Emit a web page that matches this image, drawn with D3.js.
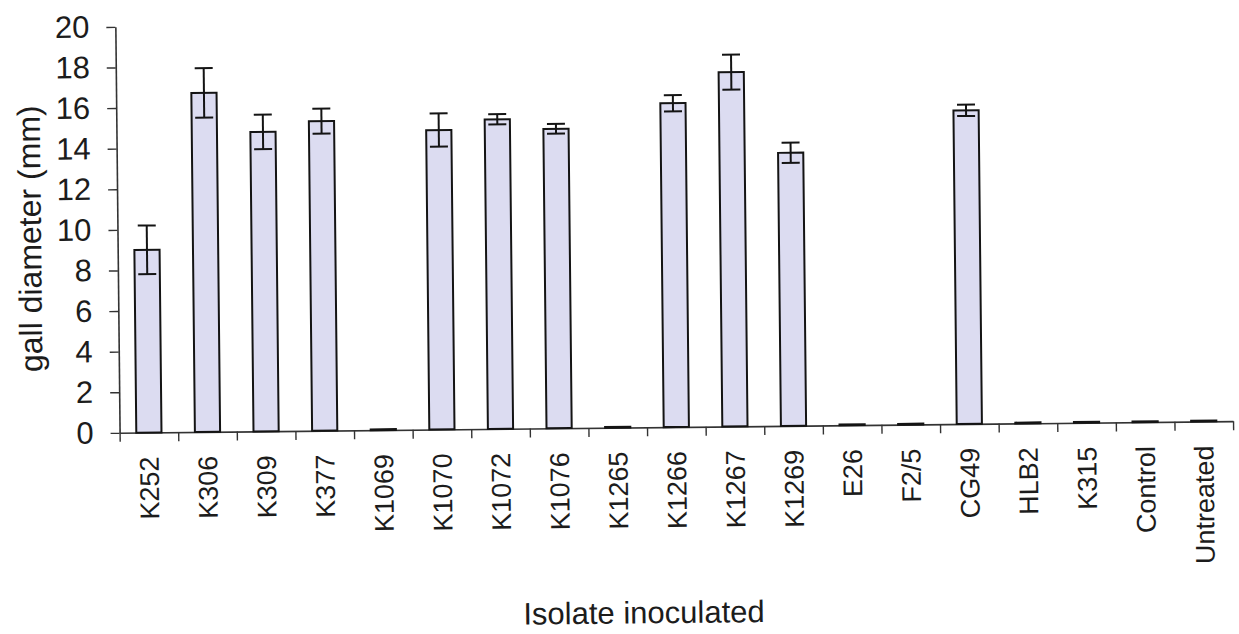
<!DOCTYPE html>
<html>
<head>
<meta charset="utf-8">
<script src="https://cdn.jsdelivr.net/npm/d3@7"></script>
<style>
  html, body { margin: 0; padding: 0; background: #fff; }
  svg { display: block; }
  text { font-family: "Liberation Sans", Arial, sans-serif; fill: #1c1c1c; }
</style>
</head>
<body>
<svg id="chart" width="1239" height="634"></svg>
<script>
// Mean gall diameter (mm) per inoculated isolate, with error bars
const categories = ["K252", "K306", "K309", "K377", "K1069", "K1070", "K1072", "K1076",
  "K1265", "K1266", "K1267", "K1269", "E26", "F2/5", "CG49", "HLB2", "K315", "Control", "Untreated"];
const means  = [9.0, 16.7, 14.75, 15.25, 0, 14.75, 15.25, 14.75, 0, 15.95, 17.45, 13.45, 0, 0, 15.45, 0, 0, 0, 0];
const errors = [1.2, 1.22, 0.85, 0.62, 0, 0.82, 0.25, 0.24, 0, 0.4, 0.86, 0.5, 0, 0, 0.28, 0, 0, 0, 0];
const yTicks = [0, 2, 4, 6, 8, 10, 12, 14, 16, 18, 20];

const yTitle = "gall diameter (mm)";
const xTitle = "Isolate inoculated";

const rows = categories.map((c, i) => ({ cat: c, mean: means[i], err: errors[i] }));

const svg = d3.select("#chart");
svg.append("rect").attr("width", 1239).attr("height", 634).attr("fill", "#fff");

// whole figure sits at a slight angle
const g = svg.append("g").attr("transform", "rotate(-0.6 675 230)");

const plotLeft = 117.5, plotRight = 1231, plotBase = 427, plotTop = 21;

const x = d3.scaleBand().domain(categories).range([plotLeft, plotRight])
  .paddingInner(0.57).paddingOuter(0.285);
const edges = d3.scaleLinear().domain([0, categories.length]).range([plotLeft, plotRight]);
const y = d3.scaleLinear().domain([0, 20]).range([plotBase, plotTop]);

// y axis
const yAxis = g.append("g").attr("transform", `translate(${plotLeft},0)`)
  .call(d3.axisLeft(y).tickValues(yTicks).tickSize(9).tickSizeOuter(0).tickPadding(17));
yAxis.selectAll("text").style("font-size", "31px").attr("fill", "#1c1c1c");
yAxis.select(".domain").attr("stroke", "#333").attr("stroke-width", 1.6);
yAxis.selectAll(".tick line").attr("stroke", "#333").attr("stroke-width", 1.4);

// x axis line with category boundary ticks
const xEdges = g.append("g").attr("transform", `translate(0,${plotBase})`)
  .call(d3.axisBottom(edges).tickValues(d3.range(categories.length + 1))
    .tickSize(9).tickSizeOuter(0).tickFormat(""));
xEdges.select(".domain").attr("stroke", "#333").attr("stroke-width", 1.6);
xEdges.selectAll(".tick line").attr("stroke", "#333").attr("stroke-width", 1.4);

// category labels, vertical
const xLabels = g.append("g").attr("transform", `translate(0,${plotBase})`)
  .call(d3.axisBottom(x).tickSize(0));
xLabels.select(".domain").remove();
xLabels.selectAll("text")
  .style("font-size", "27px")
  .attr("fill", "#1c1c1c")
  .attr("transform", "rotate(-90)")
  .attr("text-anchor", "end")
  .attr("x", -24)
  .attr("y", 0)
  .attr("dy", "0.35em");

// bars
g.append("g").selectAll("rect").data(rows).join("rect")
  .attr("x", d => x(d.cat))
  .attr("width", x.bandwidth())
  .attr("y", d => Math.min(y(d.mean), plotBase - 0.8))
  .attr("height", d => Math.max(y(0) - y(d.mean), 0.8))
  .attr("fill", "#dcdcf1")
  .attr("stroke", "#141414")
  .attr("stroke-width", 2);

// error bars
const capW = 18;
const eb = g.append("g").selectAll("g").data(rows.filter(d => d.err > 0)).join("g")
  .attr("stroke", "#141414").attr("stroke-width", 2);
eb.append("line")
  .attr("x1", d => x(d.cat) + x.bandwidth() / 2).attr("x2", d => x(d.cat) + x.bandwidth() / 2)
  .attr("y1", d => y(d.mean + d.err)).attr("y2", d => y(d.mean - d.err));
eb.append("line")
  .attr("x1", d => x(d.cat) + x.bandwidth() / 2 - capW / 2).attr("x2", d => x(d.cat) + x.bandwidth() / 2 + capW / 2)
  .attr("y1", d => y(d.mean + d.err)).attr("y2", d => y(d.mean + d.err));
eb.append("line")
  .attr("x1", d => x(d.cat) + x.bandwidth() / 2 - capW / 2).attr("x2", d => x(d.cat) + x.bandwidth() / 2 + capW / 2)
  .attr("y1", d => y(d.mean - d.err)).attr("y2", d => y(d.mean - d.err));

// axis titles
g.append("text")
  .attr("transform", "translate(41,232) rotate(-90)")
  .attr("text-anchor", "middle")
  .style("font-size", "32px")
  .text(yTitle);

g.append("text")
  .attr("x", 640).attr("y", 623)
  .attr("text-anchor", "middle")
  .style("font-size", "31px")
  .text(xTitle);
</script>
</body>
</html>
